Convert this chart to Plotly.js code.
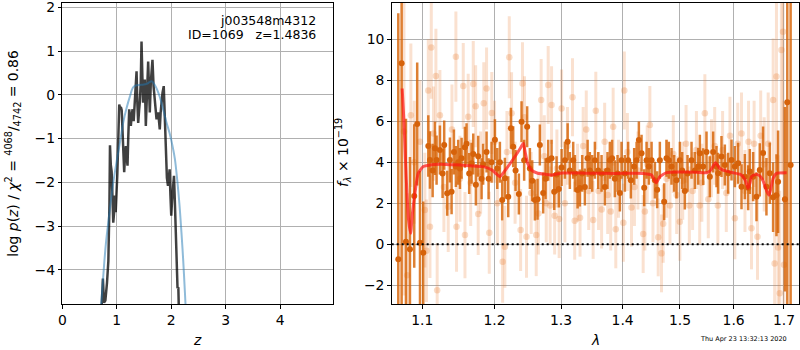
<!DOCTYPE html>
<html>
<head>
<meta charset="utf-8">
<script src="https://cdn.plot.ly/plotly-3.0.1.min.js"></script>
<style>html,body{margin:0;padding:0;background:#fff;}#chart{width:800px;height:350px;}</style>
</head>
<body>
<div id="chart"></div>
<script>
// ---- left panel: log p(z) ----
const zPdf = [0.70,0.73,0.745,0.765,0.79,0.82,0.845,0.865,0.875,0.89,0.905,0.92,0.935,0.95,0.965,0.98,0.995,1.01,1.03,1.045,1.06,1.075,1.09,1.105,1.12,1.136,1.15,1.167,1.18,1.197,1.21,1.228,1.245,1.258,1.275,1.29,1.31,1.33,1.345,1.363,1.378,1.393,1.41,1.424,1.44,1.454,1.47,1.484,1.50,1.514,1.533,1.55,1.576,1.59,1.606,1.625,1.655,1.675,1.70,1.73,1.745,1.76,1.775,1.789,1.805,1.82,1.84,1.862,1.88,1.90,1.92,1.94,1.955,1.97,1.985,2.00,2.015,2.03,2.05,2.065,2.08,2.10,2.115,2.13,2.145,2.16];
const logPz = [-5.5,-4.6,-4.2,-4.75,-4.7,-4.3,-3.8,-2.5,-1.15,-1.6,-1.75,-2.3,-2.92,-2.7,-2.3,-2.68,-2.3,-1.8,-0.9,-0.22,-0.3,-0.28,-0.35,-0.79,-1.2,-1.77,-1.4,-1.17,-1.4,-1.62,-1.0,-0.33,-0.55,-0.71,-0.45,-0.33,-0.6,-0.03,0.2,0.54,-0.2,-0.64,-0.35,-0.15,0.3,1.22,0.4,-0.18,0.1,0.35,-0.71,-0.1,0.76,0.2,-0.40,0.3,0.80,0.2,-0.26,-0.56,-0.45,-0.40,-0.6,-0.79,-0.4,-0.10,0.05,0.20,-0.6,-1.55,-1.9,-2.08,-1.8,-1.70,-2.3,-2.76,-2.4,-2.08,-1.85,-2.4,-2.91,-3.8,-4.42,-4.4,-4.8,-6.0];
const zSmooth = [0.71,0.76,0.80,0.85,0.93,1.00,1.05,1.12,1.18,1.24,1.30,1.36,1.45,1.55,1.60,1.64,1.69,1.74,1.79,1.85,1.91,1.97,2.02,2.065,2.11,2.15,2.19,2.22,2.25,2.27];
const logPzSmooth = [-4.85,-4.0,-3.4,-2.85,-2.05,-1.5,-1.15,-0.62,-0.3,-0.04,0.17,0.22,0.23,0.25,0.29,0.31,0.24,0.12,-0.05,-0.33,-0.62,-0.88,-1.15,-1.45,-1.95,-2.5,-3.2,-3.8,-4.5,-5.0];
const zTicks = [0,1,2,3,4];
const pzTicks = [-4,-3,-2,-1,0,1,2];

// ---- right panel: spectrum ----
const darkWave = [1.0687,1.0730,1.0786,1.0838,1.0894,1.0933,1.0970,1.1013,1.1080,1.1102,1.1138,1.1169,1.1191,1.1236,1.1272,1.1294,1.1335,1.1372,1.1395,1.1427,1.1454,1.1486,1.1510,1.1533,1.1579,1.1602,1.1639,1.1672,1.1696,1.1733,1.1766,1.1814,1.1836,1.1885,1.1914,1.1957,1.2005,1.2039,1.2077,1.2111,1.2150,1.2199,1.2238,1.2272,1.2307,1.2356,1.2396,1.2435,1.2480,1.2521,1.2556,1.2597,1.2637,1.2672,1.2723,1.2760,1.2800,1.2852,1.2893,1.2930,1.2966,1.3008,1.3060,1.3103,1.3138,1.3191,1.3218,1.3261,1.3297,1.3335,1.3378,1.3422,1.3458,1.3496,1.3540,1.3594,1.3649,1.3703,1.3747,1.3786,1.3824,1.3869,1.3914,1.3953,1.3981,1.4037,1.4093,1.4139,1.4196,1.4237,1.4276,1.4322,1.4368,1.4409,1.4449,1.4496,1.4554,1.4594,1.4641,1.4717,1.4759,1.4800,1.4848,1.4895,1.4937,1.4998,1.5040,1.5088,1.5137,1.5210,1.5271,1.5332,1.5363,1.5424,1.5487,1.5549,1.5611,1.5674,1.5705,1.5768,1.5832,1.5895,1.5960,1.6024,1.6088,1.6153,1.6218,1.6283,1.6315,1.6381,1.6447,1.6512,1.6578,1.6645,1.6712,1.6779,1.6847,1.6880,1.7020,1.7068,1.7137];
const darkFlux = [-0.73,8.83,0.13,-0.24,2.36,5.87,0.08,-0.41,4.80,4.11,3.60,4.68,4.11,4.60,3.46,4.84,2.49,4.11,2.57,4.50,3.80,4.00,3.70,4.20,4.74,4.90,3.46,3.95,4.40,2.90,4.30,3.20,3.90,4.50,3.20,4.00,5.10,3.70,4.00,2.16,3.22,2.32,5.66,4.76,3.60,2.45,5.98,4.10,5.74,3.70,3.10,2.16,2.20,4.84,2.50,3.20,4.10,4.20,2.57,3.40,2.70,3.75,4.10,5.00,3.60,4.10,3.46,2.65,2.75,3.46,2.80,4.20,3.60,3.46,4.10,3.60,3.46,2.80,3.60,4.10,4.20,3.20,3.46,2.50,4.10,3.46,4.10,3.13,3.80,4.10,5.09,4.44,2.76,4.10,3.80,4.10,3.13,2.66,4.10,2.08,4.20,4.10,3.80,3.46,3.13,4.10,3.60,2.60,3.46,4.10,3.60,3.80,4.44,3.79,4.50,3.30,4.50,3.79,3.47,4.28,3.87,3.47,4.11,3.79,3.95,2.81,3.30,2.76,3.55,3.30,2.32,3.63,4.45,2.81,3.47,2.30,2.39,3.05,2.20,6.93,3.87];
const darkErr = [12,12,6,4.5,3.5,3,3.5,2.5,1.5,1.4,1.3,1.3,1.2,1.2,1.2,1.2,1.1,1.1,1.1,1.1,1.0,1.1,1.0,1.0,1.0,1.0,1.0,1.0,1.0,1.0,1.0,1.0,1.0,1.0,1.0,1.0,1.0,1.0,1.0,1.0,1.0,1.0,1.0,1.0,1.0,1.0,1.0,1.0,1.0,1.0,1.0,1.0,1.0,1.0,1.0,1.0,1.0,0.9,0.9,0.9,0.9,0.9,0.9,0.9,0.9,0.9,0.9,0.9,0.9,0.9,0.9,0.9,0.9,0.9,0.9,0.9,0.9,0.9,0.9,0.9,0.9,0.9,0.9,0.9,0.9,0.9,0.9,0.9,0.9,0.9,0.9,0.9,0.9,0.9,0.9,0.9,0.9,0.9,0.9,0.9,0.9,0.9,0.9,0.9,0.9,0.9,0.9,0.9,0.9,0.9,0.9,0.9,0.9,0.9,1.0,1.0,1.0,1.0,1.0,1.0,1.0,1.0,1.0,1.0,1.0,1.1,1.1,1.1,1.1,1.2,1.2,1.3,1.3,1.4,1.5,1.7,2.0,2.5,4.5,12,12];

const lightWave = [1.0760,1.0802,1.0850,1.0894,1.0970,1.1034,1.1055,1.1080,1.1102,1.1120,1.1150,1.1182,1.1199,1.1236,1.1290,1.1349,1.1400,1.1454,1.1463,1.1510,1.1556,1.1580,1.1625,1.1660,1.1696,1.1730,1.1766,1.1800,1.1845,1.1885,1.1924,1.1960,1.2000,1.2040,1.2117,1.2150,1.2180,1.2214,1.2248,1.2300,1.2382,1.2410,1.2440,1.2470,1.2540,1.2617,1.2650,1.2692,1.2740,1.2770,1.2800,1.2830,1.2852,1.2900,1.2935,1.2970,1.3008,1.3060,1.3100,1.3180,1.3215,1.3260,1.3300,1.3350,1.3400,1.3440,1.3512,1.3555,1.3600,1.3650,1.3700,1.3750,1.3800,1.3841,1.3885,1.3930,1.4012,1.4028,1.4080,1.4150,1.4200,1.4260,1.4350,1.4380,1.4420,1.4466,1.4520,1.4612,1.4670,1.4700,1.4760,1.4820,1.4880,1.4940,1.4998,1.5050,1.5110,1.5170,1.5230,1.5300,1.5360,1.5400,1.5456,1.5520,1.5580,1.5640,1.5700,1.5790,1.5860,1.5930,1.6024,1.6080,1.6153,1.6220,1.6290,1.6348,1.6400,1.6467,1.6530,1.6600,1.6680,1.6780,1.6810,1.6847,1.6880,1.6914,1.6948,1.6981,1.7000];
const lightFlux = [5.5,-1.51,6.3,4.0,5.0,1.67,-0.31,7.50,0.86,9.60,5.4,8.21,-2.24,6.30,2.8,1.83,5.6,9.15,0.86,3.2,7.72,0.45,6.22,3.0,7.82,6.74,1.48,3.5,6.88,7.60,0.57,6.40,5.0,2.0,-0.85,-0.12,4.5,9.12,6.39,3.0,0.70,7.85,6.2,0.37,2.5,0.45,1.5,7.04,4.3,2.0,7.77,1.9,6.79,1.4,3.7,1.23,6.63,2.0,4.8,7.17,1.15,3.0,1.3,4.8,5.6,2.6,1.19,6.52,2.6,1.7,5.0,2.4,1.6,5.74,0.73,3.2,1.05,7.50,4.5,1.8,2.8,3.6,0.50,1.6,3.9,5.82,2.0,0.34,-0.44,1.0,3.2,1.9,4.4,2.4,1.10,3.1,4.9,1.9,2.6,4.6,1.9,3.0,6.39,2.2,4.2,4.8,1.9,4.6,2.5,5.3,1.27,4.9,5.41,2.6,5.0,0.78,4.9,0.37,5.3,3.9,4.9,7.04,-0.93,8.18,-0.15,-2.39,9.48,10.37,-1.0];
const lightErr = [8,4,3.5,3,3,2.8,2.5,2.5,2.5,2.5,2.3,2.3,2.3,2.2,2.2,2.2,2.2,2.2,2.2,2.1,2.1,2.1,2.1,2.1,2.1,2.0,2.0,2.0,2.0,2.0,2.0,2.0,2.0,2.0,2.0,2.0,2.0,2.0,2.0,2.0,2.0,2.0,2.0,2.0,2.0,2.0,2.0,2.0,2.0,1.9,1.9,1.9,1.9,1.9,1.9,1.9,1.9,1.9,1.9,1.9,1.9,1.9,1.9,1.9,1.9,1.9,1.9,1.9,1.9,1.9,1.9,1.9,1.9,1.9,1.9,1.9,1.9,1.9,1.9,1.9,1.9,1.9,1.9,1.9,1.9,1.9,1.9,1.9,1.9,1.9,1.9,1.9,1.9,1.9,1.9,1.9,1.9,1.9,1.9,1.9,1.9,1.9,1.9,1.9,1.9,1.9,1.9,1.9,1.9,1.9,2.0,2.0,2.0,2.0,2.0,2.0,2.1,2.1,2.2,2.3,2.5,3.0,3.5,4,4.5,5,6,7,8];

const modelWave = [1.0737,1.0760,1.0790,1.0820,1.0847,1.0870,1.0903,1.0946,1.1013,1.1102,1.1236,1.1400,1.1556,1.1700,1.1836,1.1964,1.2030,1.2077,1.2150,1.2296,1.2380,1.2423,1.2450,1.2487,1.2545,1.2630,1.2723,1.2852,1.3022,1.3400,1.3885,1.4350,1.4496,1.4578,1.4641,1.4759,1.4998,1.5300,1.5487,1.5560,1.5655,1.5737,1.5850,1.5992,1.6120,1.6185,1.6240,1.6283,1.6320,1.6348,1.6420,1.6467,1.6530,1.6578,1.6650,1.6698,1.6740,1.6780,1.6847,1.7055];
const modelFlux = [7.6,6.0,3.2,1.2,0.54,1.5,2.49,3.46,3.79,3.87,3.90,3.88,3.86,3.82,3.79,3.62,3.42,3.30,3.59,4.27,4.70,4.93,4.5,3.95,3.62,3.48,3.43,3.38,3.48,3.47,3.46,3.46,3.38,3.00,3.30,3.50,3.53,3.52,3.49,3.60,3.98,3.70,3.58,3.49,3.42,3.30,3.05,2.73,3.0,3.30,3.40,3.40,3.30,3.10,2.6,2.40,2.8,3.22,3.46,3.49];

const waveTicks = [1.1,1.2,1.3,1.4,1.5,1.6,1.7];
const waveTickText = ['1.1','1.2','1.3','1.4','1.5','1.6','1.7'];
const fluxTicks = [-2,0,2,4,6,8,10];

const FONT = 'DejaVu Sans, Liberation Sans, sans-serif';
const axisCommon = {
  showline: true, mirror: true, linecolor: '#000', linewidth: 1,
  ticks: 'outside', ticklen: 3.5, tickwidth: 1, tickcolor: '#000',
  showgrid: true, gridcolor: '#b0b0b0', gridwidth: 1, zeroline: false,
  ticklabeloverflow: 'allow',
  tickfont: {family: FONT, size: 13.9, color: '#000'}
};

const traces = [
  {x: zPdf, y: logPz, xaxis: 'x', yaxis: 'y', mode: 'lines', type: 'scatter',
   line: {color: 'rgba(0,0,0,0.75)', width: 2.5}},
  {x: zSmooth, y: logPzSmooth, xaxis: 'x', yaxis: 'y', mode: 'lines', type: 'scatter',
   line: {color: 'rgba(31,119,180,0.5)', width: 2, shape: 'spline'}},
  {x: lightWave, y: lightFlux, xaxis: 'x2', yaxis: 'y2', mode: 'markers', type: 'scatter',
   marker: {color: 'rgba(232,120,40,0.26)', size: 6.5},
   error_y: {type: 'data', array: lightErr, visible: true, color: 'rgba(232,120,40,0.22)', thickness: 3, width: 0}},
  {x: darkWave, y: darkFlux, xaxis: 'x2', yaxis: 'y2', mode: 'markers', type: 'scatter',
   marker: {color: 'rgb(214,98,10)', size: 6},
   error_y: {type: 'data', array: darkErr, visible: true, color: 'rgba(214,96,0,0.8)', thickness: 2.5, width: 0}},
  {x: modelWave, y: modelFlux, xaxis: 'x2', yaxis: 'y2', mode: 'lines', type: 'scatter',
   line: {color: 'rgba(255,20,20,0.7)', width: 3, shape: 'spline', smoothing: 0.5}}
];

const layout = {
  width: 800, height: 350,
  margin: {l: 0, r: 0, t: 3, b: 46},
  paper_bgcolor: '#fff', plot_bgcolor: '#fff',
  showlegend: false,
  font: {family: FONT, size: 13.9, color: '#000'},
  xaxis: Object.assign({}, axisCommon, {domain: [0.0779, 0.4163], range: [0, 4.97], tickmode: 'array', tickvals: zTicks, anchor: 'y'}),
  yaxis: Object.assign({}, axisCommon, {domain: [0, 1], range: [-4.78, 2.1], tickmode: 'array', tickvals: pzTicks, anchor: 'x'}),
  xaxis2: Object.assign({}, axisCommon, {domain: [0.4896, 0.9991], type: 'log', range: [0.02540, 0.23845], tickmode: 'array', tickvals: waveTicks, ticktext: waveTickText, anchor: 'y2'}),
  yaxis2: Object.assign({}, axisCommon, {domain: [0, 1], range: [-2.91, 11.77], tickmode: 'array', tickvals: fluxTicks, anchor: 'x2'}),
  shapes: [
    {type: 'line', xref: 'x2 domain', x0: 0, x1: 1, yref: 'y2', y0: 0, y1: 0,
     line: {color: '#000', width: 2, dash: '2px,3px'}}
  ],
  annotations: [
    {xref: 'paper', yref: 'paper', x: 0.398, y: 0.9435, xanchor: 'right', yanchor: 'middle', showarrow: false,
     text: 'j003548m4312', font: {family: FONT, size: 12.5, color: '#000'}},
    {xref: 'paper', yref: 'paper', x: 0.398, y: 0.8937, xanchor: 'right', yanchor: 'middle', showarrow: false,
     text: 'ID=1069\u00a0\u00a0\u00a0z=1.4836', font: {family: FONT, size: 12.5, color: '#000'}},
    {xref: 'paper', yref: 'paper', x: 0.2469, y: -0.1196, xanchor: 'center', yanchor: 'middle', showarrow: false,
     text: '<i>z</i>', font: {family: FONT, size: 13.9, color: '#000'}},
    {xref: 'paper', yref: 'paper', x: 0.7444, y: -0.1196, xanchor: 'center', yanchor: 'middle', showarrow: false,
     text: '<i>λ</i>', font: {family: FONT, size: 13.9, color: '#000'}},
    {xref: 'paper', yref: 'paper', x: 0.016, y: 0.5017, xanchor: 'center', yanchor: 'middle', showarrow: false, textangle: -90,
     text: 'log <i>p</i>(<i>z</i>) / <i>χ</i><sup>2</sup> = <sup>4068</sup>/<sub>4742</sub> = 0.86', font: {family: FONT, size: 13.9, color: '#000'}},
    {xref: 'paper', yref: 'paper', x: 0.4288, y: 0.5017, xanchor: 'center', yanchor: 'middle', showarrow: false, textangle: -90,
     text: '<i>f</i><sub><i>λ</i></sub> × 10<sup>−19</sup>', font: {family: FONT, size: 13.9, color: '#000'}},
    {xref: 'paper', yref: 'paper', x: 0.929, y: -0.116, xanchor: 'center', yanchor: 'middle', showarrow: false,
     text: 'Thu Apr 23 13:32:13 2020', font: {family: FONT, size: 6.5, color: '#000'}}
  ]
};

Plotly.newPlot('chart', traces, layout, {staticPlot: true, displayModeBar: false});
</script>
</body>
</html>
